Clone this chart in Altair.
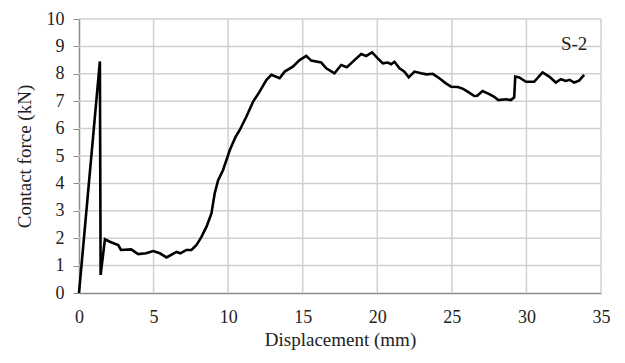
import altair as alt
import pandas as pd

disp = [0, 1.40, 1.45, 1.74, 2.07, 2.4, 2.63, 2.81, 3.5, 3.97, 4.5, 4.97, 5.42, 5.87,
        6.54, 6.8, 7.2, 7.54, 7.88, 8.21, 8.55, 8.88, 9.1, 9.33, 9.66, 10.1, 10.5,
        10.78, 11.22, 11.67, 12.11, 12.56, 12.9, 13.45, 13.79, 14.34, 14.79, 15.24,
        15.57, 16.24, 16.58, 17.13, 17.58, 17.96, 18.47, 18.92, 19.25, 19.65, 20.03,
        20.37, 20.7, 20.93, 21.15, 21.49, 21.82, 22.11, 22.49, 22.94, 23.3, 23.72,
        24.16, 24.6, 24.95, 25.4, 25.72, 26.06, 26.5, 26.7, 27.06, 27.51, 27.84,
        28.11, 28.63, 28.96, 29.18, 29.25, 29.52, 29.97, 30.52, 31.08, 31.53, 31.97,
        32.31, 32.64, 32.9, 33.2, 33.53, 33.87]
force = [0, 8.45, 0.66, 1.96, 1.87, 1.80, 1.75, 1.57, 1.59, 1.42, 1.45, 1.53, 1.45, 1.30,
         1.50, 1.45, 1.57, 1.57, 1.75, 2.05, 2.42, 2.90, 3.64, 4.12, 4.49, 5.2, 5.7,
         5.95, 6.43, 6.98, 7.35, 7.77, 7.96, 7.84, 8.08, 8.26, 8.5, 8.65,
         8.48, 8.41, 8.2, 8.02, 8.32, 8.24, 8.5, 8.72, 8.65, 8.78, 8.56,
         8.38, 8.41, 8.35, 8.44, 8.2, 8.08, 7.87, 8.08, 8.02, 7.98, 8.0,
         7.84, 7.65, 7.53, 7.52, 7.46, 7.35, 7.19, 7.2, 7.37, 7.26, 7.16,
         7.04, 7.07, 7.04, 7.14, 7.9, 7.87, 7.71, 7.71, 8.05, 7.9, 7.68,
         7.8, 7.74, 7.78, 7.68, 7.75, 7.96]

x_ticks = [0, 5, 10, 15, 20, 25, 30, 35]
y_ticks = [0, 1, 2, 3, 4, 5, 6, 7, 8, 9, 10]
label_text = ["S-2"]
label_x = [33.2]
label_y = [9.1]

df = pd.DataFrame({"d": disp, "f": force, "i": list(range(len(disp)))})
lab = pd.DataFrame({"t": label_text, "d": label_x, "f": label_y})
gx = pd.DataFrame({"d": x_ticks[1:]})
gy = pd.DataFrame({"f": y_ticks[1:]})

FONT = "Liberation Serif"
TXT = "#222222"
GRID = "#d0d0d0"

X = alt.X("d:Q", scale=alt.Scale(domain=[0, 35], nice=False),
          axis=alt.Axis(values=x_ticks, title="Displacement (mm)", ticks=False,
                        labelPadding=15, domainColor="#8c8c8c", domainWidth=1.5,
                        labelFlush=False, labelOverlap=False, titlePadding=4,
                        grid=False, labelFont=FONT, labelFontSize=18))
Y = alt.Y("f:Q", scale=alt.Scale(domain=[0, 10], nice=False),
          axis=alt.Axis(values=y_ticks, title="Contact force (kN)", tickSize=6,
                        tickColor="#8c8c8c", domainColor="#8c8c8c", domainWidth=1.5,
                        labelPadding=9, labelFlush=False, labelOverlap=False,
                        titlePadding=12, grid=False, labelFont=FONT, labelFontSize=18))

grid_x = alt.Chart(gx).mark_rule(color=GRID, strokeWidth=1.5).encode(x=X)
grid_y = alt.Chart(gy).mark_rule(color=GRID, strokeWidth=1.5).encode(y=Y)

line = alt.Chart(df).mark_line(color="black", strokeWidth=2.6).encode(
    x=X, y=Y, order="i:Q")

text = alt.Chart(lab).mark_text(font=FONT, fontSize=19, color=TXT,
                                align="center", baseline="middle").encode(
    x=X, y=Y, text="t:N")

chart = (grid_x + grid_y + line + text).properties(
    width=522, height=274, autosize="none",
    padding={"left": 71, "top": 11, "right": 16, "bottom": 62},
).configure(font=FONT).configure_view(stroke=None).configure_axis(
    labelColor=TXT, labelFont=FONT, labelFontSize=18,
    titleFont=FONT, titleFontSize=19, titleColor=TXT, titleFontWeight="normal",
)

chart.save("out.html", embed_options={"renderer": "svg", "actions": False})
